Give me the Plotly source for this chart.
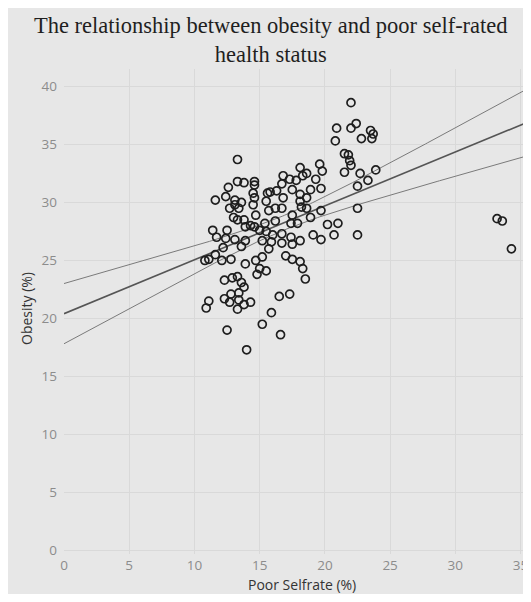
import numpy as np
import plotly.graph_objects as go

# Poor self-rated health (%) and obesity (%)
poor_selfrate = [
    22.0, 20.9, 22.0, 22.4, 20.8, 23.5, 22.8, 23.6, 23.7, 21.5, 21.8, 21.9, 22.0, 21.5, 22.7, 23.9, 23.3, 22.5,
    22.5, 22.5, 19.6, 19.8, 18.1, 18.3, 18.6, 19.3, 17.8, 17.3, 17.5, 18.9, 19.7, 18.1, 18.6, 18.1, 18.2, 18.6,
    19.7, 18.9, 17.5, 17.4, 17.9, 20.2, 21.0, 19.1, 20.7, 19.7, 17.4, 18.1, 17.5,
    13.3, 13.3, 13.8, 14.6, 14.6, 12.6, 11.6, 12.4, 13.1, 13.6, 14.5, 14.6, 13.1, 12.7, 13.4, 14.5, 15.6, 15.8,
    16.3, 15.5, 16.8, 15.7, 16.2, 16.7, 16.8, 16.7, 13.0, 13.3, 13.8, 14.7, 13.9, 14.3, 14.6, 16.2, 15.4, 11.4,
    12.5, 11.7, 12.4, 13.1, 13.9, 15.0, 15.5, 16.0, 16.7, 15.2, 15.9, 16.7, 12.2, 13.6,
    10.8, 11.1, 11.6, 12.1, 12.8, 13.9, 14.7, 15.2, 15.0, 15.5, 14.8, 15.7, 17.0, 12.3, 12.9, 13.3, 13.6, 13.8,
    12.8, 13.4, 12.3, 12.7, 13.4, 13.8, 14.3, 13.3, 11.1, 10.9, 16.5, 17.3, 15.9, 15.2, 12.5, 16.6, 14.0,
    17.5, 18.1, 18.3, 18.5,
    33.2, 33.6, 34.3,
]
obesity = [
    38.6, 36.4, 36.4, 36.8, 35.3, 36.2, 35.5, 35.5, 35.9, 34.2, 34.1, 33.6, 33.2, 32.6, 32.5, 32.8, 31.9, 31.4,
    29.5, 27.2, 33.3, 32.7, 33.0, 32.3, 32.5, 32.0, 31.9, 32.0, 31.1, 31.1, 31.2, 30.7, 30.4, 30.1, 29.6, 29.5,
    29.3, 28.7, 28.9, 28.2, 28.2, 28.1, 28.2, 27.2, 27.2, 26.8, 27.0, 26.7, 26.4,
    33.7, 31.8, 31.7, 31.8, 31.5, 31.3, 30.2, 30.5, 30.2, 30.0, 30.8, 30.4, 29.8, 29.5, 29.5, 29.8, 30.8, 30.9,
    31.0, 30.1, 30.4, 29.3, 29.5, 29.5, 32.3, 31.6, 28.7, 28.5, 28.5, 28.9, 27.9, 28.0, 27.9, 28.4, 28.2, 27.6,
    27.6, 27.0, 26.9, 26.8, 26.7, 27.6, 27.5, 27.2, 27.3, 26.7, 26.6, 26.5, 26.1, 26.2,
    25.0, 25.1, 25.5, 25.0, 25.1, 24.7, 25.0, 25.3, 24.3, 24.1, 23.8, 26.0, 25.4, 23.3, 23.5, 23.6, 23.1, 22.7,
    22.1, 22.2, 21.7, 21.4, 21.6, 21.2, 21.4, 20.8, 21.5, 20.9, 21.9, 22.1, 20.5, 19.5, 19.0, 18.6, 17.3,
    25.1, 24.9, 24.3, 23.4,
    28.6, 28.4, 26.0,
]

x_ticks = [0, 5, 10, 15, 20, 25, 30, 35]
y_ticks = [0, 5, 10, 15, 20, 25, 30, 35, 40]
x_range = [0, 35.8]
y_range = [-0.3, 41.5]

# Ordinary least squares trend line with a 95% confidence band for the mean
x = np.array(poor_selfrate)
y = np.array(obesity)
n = len(x)
slope, intercept = np.polyfit(x, y, 1)
resid = y - (intercept + slope * x)
s = np.sqrt(np.sum(resid ** 2) / (n - 2))
sxx = np.sum((x - x.mean()) ** 2)
t_crit = 1.977
xf = np.linspace(x_range[0], x_range[1], 200)
yf = intercept + slope * xf
half = t_crit * s * np.sqrt(1.0 / n + (xf - x.mean()) ** 2 / sxx)

BG = "#e7e7e7"
GRID = "#d9d9d9"

fig = go.Figure()
fig.add_trace(go.Scatter(x=xf, y=yf + half, mode="lines", line=dict(color="#7a7a7a", width=1), hoverinfo="skip"))
fig.add_trace(go.Scatter(x=xf, y=yf - half, mode="lines", line=dict(color="#7a7a7a", width=1), hoverinfo="skip"))
fig.add_trace(go.Scatter(x=xf, y=yf, mode="lines", line=dict(color="#555555", width=1.6), hoverinfo="skip"))
fig.add_trace(go.Scatter(
    x=poor_selfrate, y=obesity, mode="markers",
    marker=dict(symbol="circle-open", size=8, color="#1e1e1e", line=dict(width=1.7)),
))

# Figure geometry (the page body adds an 8px offset)
OFF = 8
W, H = 531 - OFF, 602 - 2 * OFF
ml, mr, mt, mb = 56, 0, 61, 40
pw, ph = W - ml - mr, H - mt - mb
def px_x(p):  # page pixel -> paper x
    return (p - OFF - ml) / pw
def px_y(p):  # page pixel -> paper y
    return (H - mb - (p - OFF)) / ph

tick_font = dict(family="Open Sans, sans-serif", size=13.5, color="#8c8c8c")
title_font = dict(family="Open Sans, sans-serif", size=14, color="#333333")

fig.add_annotation(
    text="The relationship between obesity and poor self-rated<br>health status",
    xref="paper", yref="paper", x=px_x(271), y=px_y(40), xanchor="center", yanchor="middle",
    showarrow=False, align="center",
    font=dict(family="Liberation Serif, Times New Roman, serif", size=22.5, color="#1f1f1f"),
)
fig.add_annotation(
    text="Poor Selfrate (%)", xref="paper", yref="paper", x=px_x(302), y=px_y(584),
    xanchor="center", yanchor="middle", showarrow=False, font=title_font,
)
fig.add_annotation(
    text="Obesity (%)", xref="paper", yref="paper", x=px_x(26), y=px_y(309),
    xanchor="center", yanchor="middle", showarrow=False, textangle=-90, font=title_font,
)

fig.update_layout(
    width=W, height=H,
    margin=dict(l=ml, r=mr, t=mt, b=mb, autoexpand=False),
    paper_bgcolor=BG, plot_bgcolor=BG,
    showlegend=False,
    xaxis=dict(
        range=x_range, tickvals=x_ticks, showgrid=True, gridcolor=GRID, gridwidth=1,
        zeroline=False, showline=False, ticks="", tickfont=tick_font, automargin=False,
        ticklabelstandoff=1,
    ),
    yaxis=dict(
        range=y_range, tickvals=y_ticks, showgrid=True, gridcolor=GRID, gridwidth=1,
        zeroline=False, showline=False, ticks="", tickfont=tick_font, automargin=False,
        ticklabelstandoff=6,
    ),
)

fig.write_html("out.html")
